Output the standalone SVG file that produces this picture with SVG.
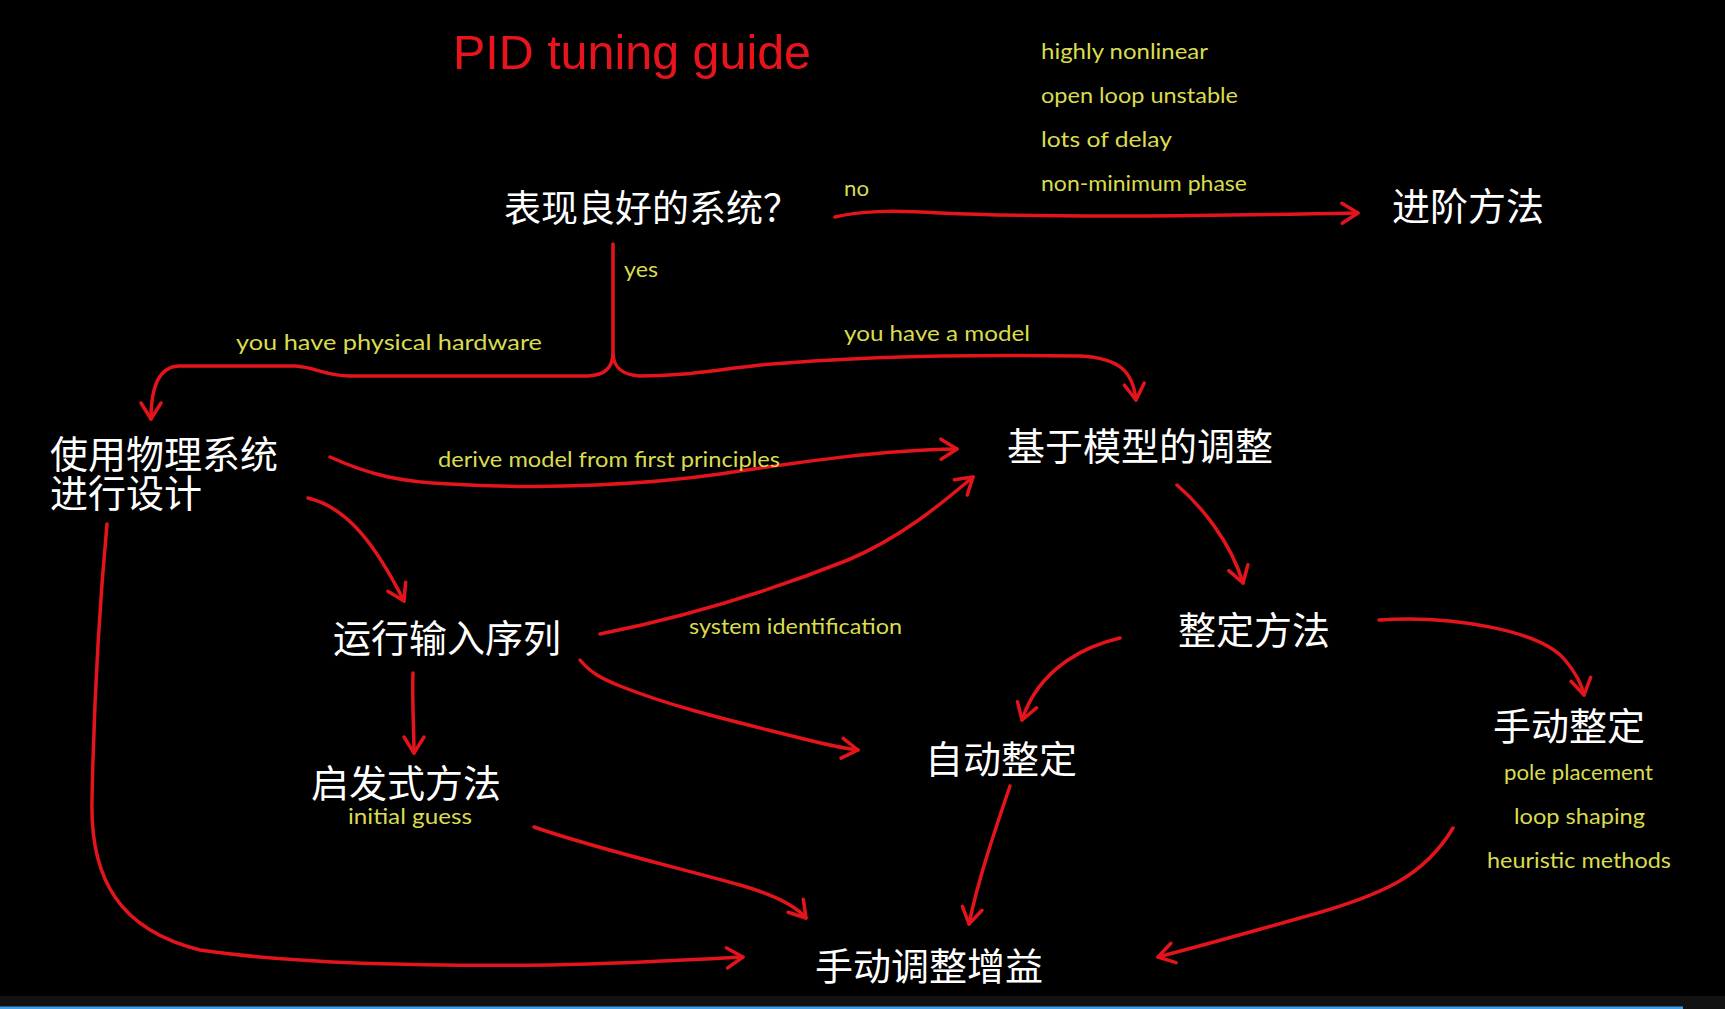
<svg xmlns="http://www.w3.org/2000/svg" width="1725" height="1009" viewBox="0 0 1725 1009">
<style>
.node{font-family:"Noto Sans CJK SC","Noto Sans",sans-serif;font-size:38px;fill:#ffffff;}
.lab{font-family:Lato,"Open Sans",sans-serif;font-size:22px;fill:#d9dc4e;}
.edge{fill:none;stroke:#e3141b;stroke-width:3.5;stroke-linecap:round;stroke-linejoin:round;marker-end:url(#ah);}
.title{font-family:"Liberation Sans",Arial,sans-serif;font-size:49px;fill:#e8141c;}
</style>
<defs>
<marker id="ah" viewBox="0 0 26 26" refX="23" refY="13" markerWidth="26" markerHeight="26" markerUnits="userSpaceOnUse" orient="auto">
<path d="M7,3 L23,13 L7,23" fill="none" stroke="#e3141b" stroke-width="3.5" stroke-linecap="round" stroke-linejoin="round"/>
</marker>
</defs>
<rect x="0" y="0" width="1725" height="1009" fill="#000000"/>
<rect x="0" y="996" width="1725" height="13" fill="#121212"/>
<rect x="0" y="1006.5" width="1683" height="2.5" fill="#3da0e6"/>

<g id="title"><text class="title" x="453" y="69" textLength="358" lengthAdjust="spacingAndGlyphs">PID tuning guide</text></g>

<g id="connectors">
<path class="edge" d="M835,217 C860,211 890,210 940,213 C1050,218 1200,216 1358,213"/>
<path class="edge" d="M613,244 L613,352 C613,368 605,375 588,376 L350,376 C325,376 315,367 295,366 L180,366 C160,366 151,384 151,419"/>
<path class="edge" d="M613,354 C614,368 622,375 640,376 C680,376 700,372 760,365 C850,357 950,354 1080,356 C1120,358 1133,372 1136,400"/>
<path class="edge" d="M330,457 C370,475 400,482 450,484 C550,490 650,484 720,474 C800,462 880,450 957,449"/>
<path class="edge" d="M308,498 C350,508 378,550 404,601"/>
<path class="edge" d="M600,634 C680,618 760,595 848,560 C900,538 940,505 973,477"/>
<path class="edge" d="M580,660 C590,672 600,678 620,686 C680,710 750,725 800,738 C820,743 840,748 858,750"/>
<path class="edge" d="M413,673 C412,700 414,730 414,753"/>
<path class="edge" d="M534,827 C600,850 680,868 740,885 C775,895 795,905 806,918"/>
<path class="edge" d="M107,524 C100,600 94,700 92,800 C90,880 120,930 200,950 C300,965 450,966 550,965 C620,964 690,960 743,957"/>
<path class="edge" d="M1010,786 C995,830 978,880 969,924"/>
<path class="edge" d="M1177,485 C1200,505 1230,540 1243,583"/>
<path class="edge" d="M1120,638 C1090,645 1040,665 1022,720"/>
<path class="edge" d="M1379,620 C1450,615 1540,630 1565,660 C1575,672 1582,685 1584,695"/>
<path class="edge" d="M1453,828 C1425,875 1385,895 1300,918 C1240,935 1200,946 1158,957"/>
</g>

<g id="edge-labels">
<text class="lab" x="844" y="196" textLength="25" lengthAdjust="spacingAndGlyphs">no</text>
<text class="lab" x="624" y="277" textLength="34" lengthAdjust="spacingAndGlyphs">yes</text>
<text class="lab" x="236" y="350" textLength="306" lengthAdjust="spacingAndGlyphs">you have physical hardware</text>
<text class="lab" x="844" y="341" textLength="186" lengthAdjust="spacingAndGlyphs">you have a model</text>
<text class="lab" x="438" y="467" textLength="342" lengthAdjust="spacingAndGlyphs">derive model from first principles</text>
<text class="lab" x="689" y="634" textLength="213" lengthAdjust="spacingAndGlyphs">system identification</text>
</g>

<g id="conditions">
<text class="lab" x="1041" y="59" textLength="167" lengthAdjust="spacingAndGlyphs">highly nonlinear</text>
<text class="lab" x="1041" y="103" textLength="197" lengthAdjust="spacingAndGlyphs">open loop unstable</text>
<text class="lab" x="1041" y="147" textLength="131" lengthAdjust="spacingAndGlyphs">lots of delay</text>
<text class="lab" x="1041" y="191" textLength="206" lengthAdjust="spacingAndGlyphs">non-minimum phase</text>
</g>

<g id="n-well-behaved"><text class="node" x="504" y="222" style="font-size:37px" textLength="296" lengthAdjust="spacing">表现良好的系统？</text></g>
<g id="n-advanced"><text class="node" x="1392" y="220">进阶方法</text></g>
<g id="n-physical"><text class="node" x="50" y="468">使用物理系统</text><text class="node" x="50" y="507">进行设计</text></g>
<g id="n-model-based"><text class="node" x="1007" y="460">基于模型的调整</text></g>
<g id="n-input-seq"><text class="node" x="333" y="652">运行输入序列</text></g>
<g id="n-tuning-method"><text class="node" x="1178" y="644">整定方法</text></g>
<g id="n-heuristic"><text class="node" x="311" y="797">启发式方法</text><text class="lab" x="348" y="824" textLength="124" lengthAdjust="spacingAndGlyphs">initial guess</text></g>
<g id="n-auto"><text class="node" x="925" y="773">自动整定</text></g>
<g id="n-manual-tuning"><text class="node" x="1493" y="740">手动整定</text>
<text class="lab" x="1504" y="780" textLength="149" lengthAdjust="spacingAndGlyphs">pole placement</text>
<text class="lab" x="1514" y="824" textLength="131" lengthAdjust="spacingAndGlyphs">loop shaping</text>
<text class="lab" x="1487" y="868" textLength="184" lengthAdjust="spacingAndGlyphs">heuristic methods</text>
</g>
<g id="n-manual-gain"><text class="node" x="815" y="980">手动调整增益</text></g>
</svg>
